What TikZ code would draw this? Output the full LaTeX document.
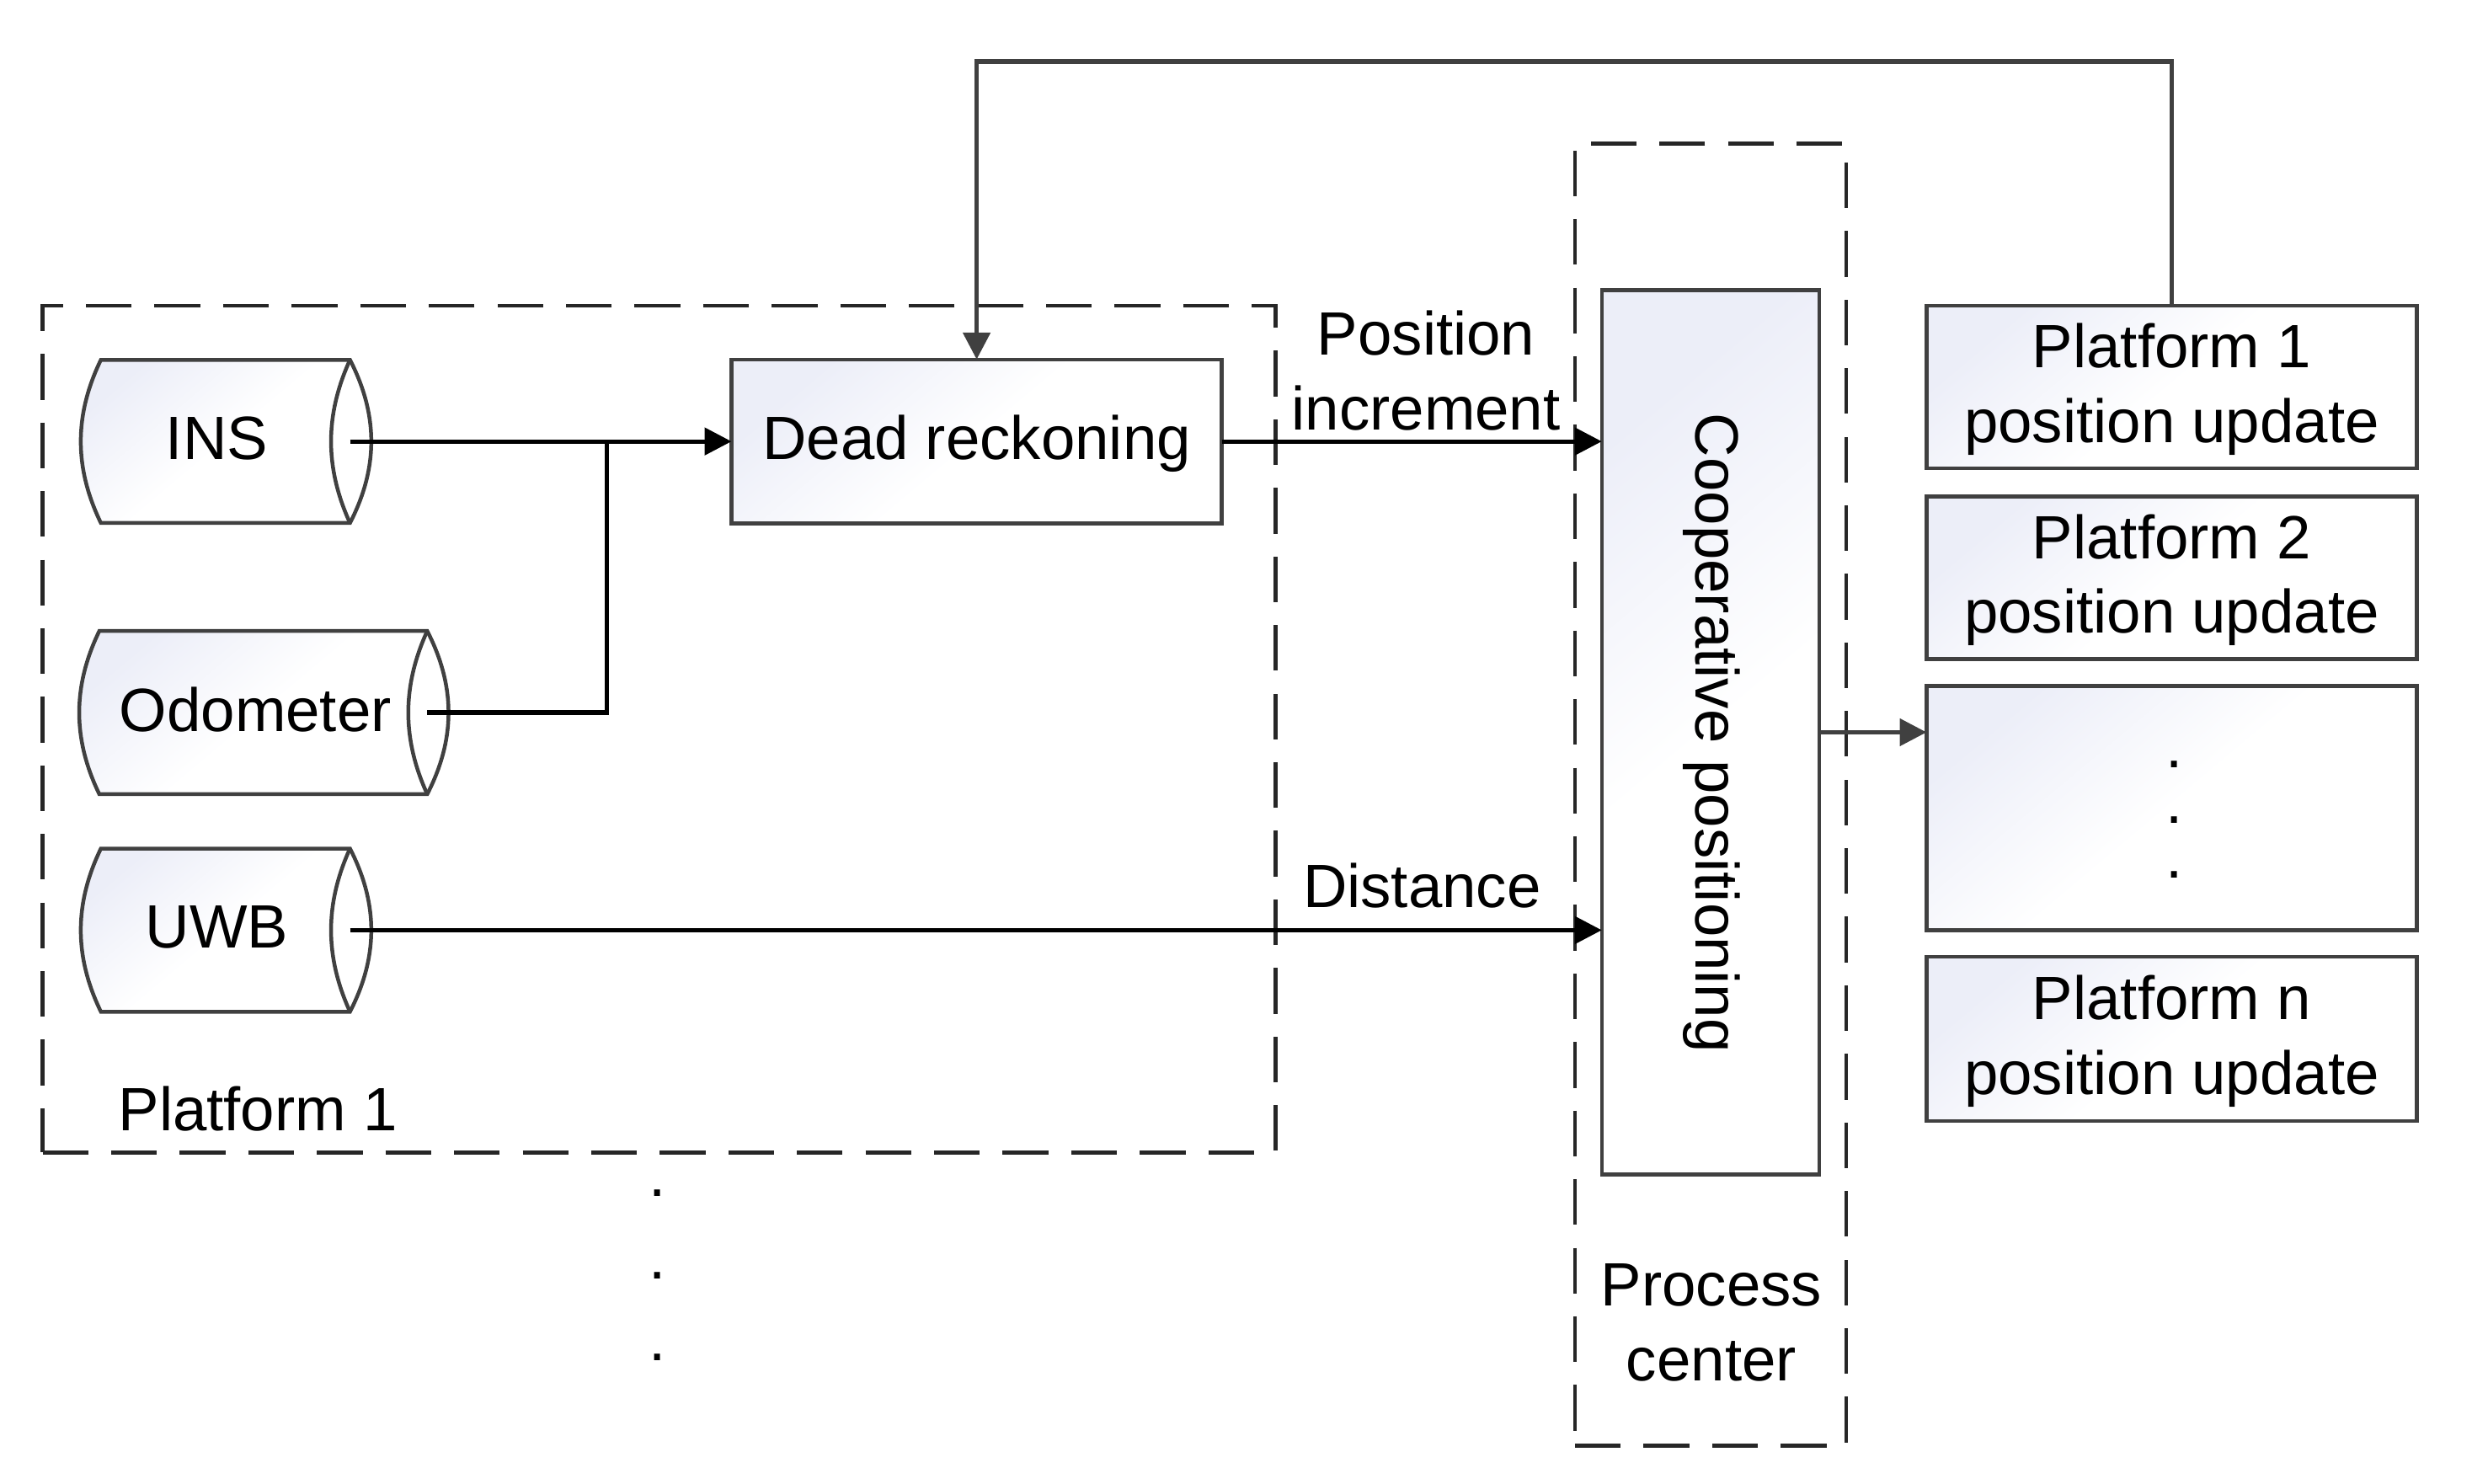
\documentclass[tikz,border=0pt]{standalone}
\usepackage{fontspec}
\setmainfont{Liberation Sans}
\usetikzlibrary{arrows.meta}
\definecolor{edge}{HTML}{404040}
\definecolor{tint}{HTML}{ECEEF8}
\newcommand{\lowr}{\rule{0pt}{31pt}}
\tikzset{
  grad/.style={top color=tint,bottom color=white,middle color=white,shading angle=40},
  box/.style={draw=edge,line width=2.4pt,grad,inner sep=0pt,outer sep=0pt,align=center},
  anchorbox/.style={inner sep=0pt,outer sep=0pt,minimum height=103.5pt},
  cyl/.style={draw=edge,line width=2.4pt,grad},
  cylrim/.style={draw=edge,line width=2.4pt},
  txt/.style={inner sep=0pt,outer sep=0pt,align=center},
  dashbox/.style={draw=black!85,line width=2.4pt,dash pattern=on 29pt off 14.5pt},
  conn/.style={draw=black,line width=2.8pt,-{Triangle[length=17pt,width=17pt]}},
  link/.style={draw=black,line width=2.8pt},
  feed/.style={draw=edge,line width=2.8pt,-{Triangle[length=17pt,width=17pt]}},
  dot/.style={inner sep=0pt,outer sep=0pt,anchor=base}
}
\newcommand{\cylbody}[1]{%
  \path[cyl] (#1.north west) -- (#1.north east)
    .. controls ([xshift=18pt,yshift=-35pt]#1.north east) and ([xshift=18pt,yshift=35pt]#1.south east) .. (#1.south east)
    -- (#1.south west)
    .. controls ([xshift=-17pt,yshift=35pt]#1.south west) and ([xshift=-17pt,yshift=-35pt]#1.north west) .. cycle;
  \path[cylrim] (#1.north east)
    .. controls ([xshift=-16pt,yshift=-35pt]#1.north east) and ([xshift=-16pt,yshift=35pt]#1.south east) .. (#1.south east);
}
\begin{document}
\begin{tikzpicture}[x=1pt,y=-1pt,font=\fontsize{38.8pt}{47.5pt}\selectfont]
\useasboundingbox (0,0) rectangle (1568,940.8);
% dashed groups
\node[dashbox,inner sep=0pt,outer sep=0pt,minimum width=782pt,minimum height=537pt] (plat) at (418,462.5) {};
\node[dashbox,inner sep=0pt,outer sep=0pt,minimum width=172pt,minimum height=826pt] (proc) at (1085,504) {};
% cylinders
\node[anchorbox,minimum width=158pt] (ins) at (143,280) {};
\node[anchorbox,minimum width=208pt] (odo) at (167,452) {};
\node[anchorbox,minimum width=158pt] (uwb) at (143,590) {};
\cylbody{ins}\cylbody{odo}\cylbody{uwb}
\node[txt] (tins) at (137.5,278) {INS};
\node[txt] (todo) at (162,450) {Odometer};
\node[txt] (tuwb) at (137.5,588) {UWB};
% boxes
\node[box,minimum width=311pt,minimum height=104pt] (dr) at (619.5,280) {\lowr Dead reckoning};
\node[box,minimum width=138pt,minimum height=561pt,] (coop) at (1085,464.5) {};
\node[txt,rotate=-90] (tcoop) at (1085.5,465) {Cooperative positioning};
\node[box,minimum width=311pt,minimum height=103pt] (p1) at (1377.5,245.5) {\lowr Platform 1\\position update};
\node[box,minimum width=311pt,minimum height=103pt] (p2) at (1377.5,366.5) {\lowr Platform 2\\position update};
\node[box,minimum width=311pt,minimum height=155pt] (pd) at (1377.5,512.5) {};
\node[box,minimum width=311pt,minimum height=104pt] (pn) at (1377.5,659) {\lowr Platform n\\position update};
% labels
\node[txt] (lpos) at (904.5,235) {Position\\increment};
\node[txt] (ldist) at (902,562) {Distance};
\node[txt] (lplat) at (163.5,703.5) {Platform 1};
\node[txt] (lproc) at (1085.5,839) {Process\\center};
% dots
\node[dot] (d1) at (417,759) {.};
\node[dot] (d2) at (417,811) {.};
\node[dot] (d3) at (417,863) {.};
\node[dot] (e1) at (1379,487) {.};
\node[dot] (e2) at (1379,522) {.};
\node[dot] (e3) at (1379,557) {.};
% connectors
\coordinate (fbR) at (1377.5,39);
\coordinate (fbL) at (619.5,39);
\coordinate (join) at (385,280);
\coordinate (bend) at (385,452);
\draw[conn] (ins.east) -- (dr.west);
\draw[link] (odo.east) -- (bend) -- (join);
\draw[conn] (dr.east) -- (dr.east -| coop.west);
\draw[conn] (uwb.east) -- (uwb.east -| coop.west);
\draw[feed] (p1.north) -- (fbR) -- (fbL) -- (dr.north);
\draw[feed] (coop.east) -- (coop.east -| pd.west);
\end{tikzpicture}
\end{document}
